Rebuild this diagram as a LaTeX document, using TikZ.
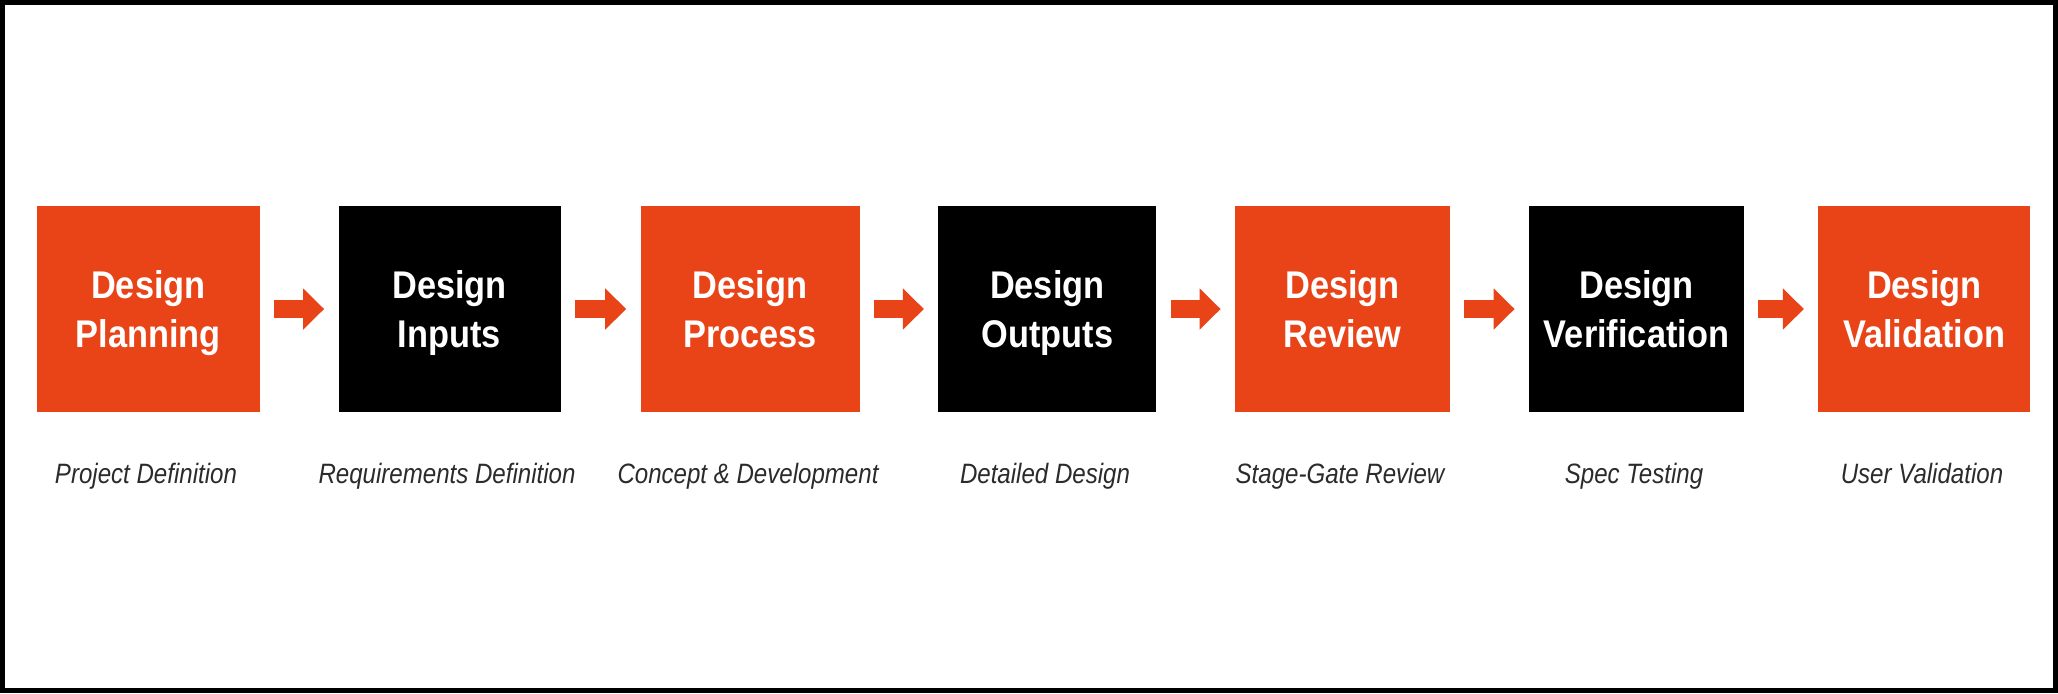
\documentclass[tikz,border=0pt]{standalone}
\usepackage{fontspec}
\setsansfont{Liberation Sans}[FakeStretch=0.86]
\newfontfamily\stagefont{Liberation Sans}[FakeStretch=0.89]
\usetikzlibrary{arrows.meta, positioning}

\definecolor{stageorange}{HTML}{E84418}
\definecolor{labgray}{HTML}{2B2B2B}

% second title line without descender, so every box text sits alike
\newcommand{\lowline}[1]{\raisebox{0pt}[\height][0pt]{#1}}

\begin{document}
\begin{tikzpicture}[
  x=0.5pt,
  y=0.5pt,
  font=\sffamily,
  stage/.style={align=center, text=white, inner sep=0pt,
    minimum height=103pt, font=\stagefont\bfseries\fontsize{19.3}{24.25}\selectfont},
  orangestage/.style={stage, fill=stageorange},
  blackstage/.style={stage, fill=black},
  arrow/.style={-{Triangle[length=10.5pt, width=20pt]}, draw=stageorange,
    line width=9pt, shorten <=7pt, shorten >=7pt},
  lab/.style={anchor=base, text=labgray, inner sep=0pt,
    font=\sffamily\itshape\fontsize{14}{16}\selectfont}
]

  % Page size and outer frame.
  \useasboundingbox (0,0) rectangle (2058,-693);
  \fill[white] (0,0) rectangle (2058,-693);
  \draw[line width=2.5pt] (2.5,-2.5) rectangle (2055.5,-690.5);

  % The seven design control stages.
  \node[orangestage, minimum width=111.5pt] at (148.4,-309)  (plan)    {Design\\\lowline{Planning}};
  \node[blackstage,  minimum width=111pt]   at (449.5,-309)  (inputs)  {Design\\\lowline{Inputs}};
  \node[orangestage, minimum width=109.5pt] at (750.1,-309)  (process) {Design\\\lowline{Process}};
  \node[blackstage,  minimum width=109pt]   at (1047.3,-309) (outputs) {Design\\\lowline{Outputs}};
  \node[orangestage, minimum width=107.5pt] at (1342.5,-309) (review)  {Design\\\lowline{Review}};
  \node[blackstage,  minimum width=107.5pt] at (1636.5,-309) (verif)   {Design\\\lowline{Verification}};
  \node[orangestage, minimum width=106pt]   at (1924.3,-309) (valid)   {Design\\\lowline{Validation}};

  \draw[arrow] (plan)    -- (inputs);
  \draw[arrow] (inputs)  -- (process);
  \draw[arrow] (process) -- (outputs);
  \draw[arrow] (outputs) -- (review);
  \draw[arrow] (review)  -- (verif);
  \draw[arrow] (verif)   -- (valid);

  % Activity captions under each stage.
  \node[lab] at (146,-483)    (planlab)    {Project Definition};
  \node[lab] at (447,-483)    (inputslab)  {Requirements Definition};
  \node[lab] at (748,-483)    (processlab) {Concept \& Development};
  \node[lab] at (1045,-483)   (outputslab) {Detailed Design};
  \node[lab] at (1340,-483)   (reviewlab)  {Stage-Gate Review};
  \node[lab] at (1634,-483)   (veriflab)   {Spec Testing};
  \node[lab] at (1922,-483)   (validlab)   {User Validation};

\end{tikzpicture}
\end{document}
